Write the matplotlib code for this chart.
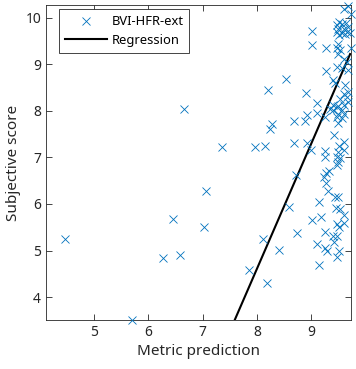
import matplotlib
matplotlib.use("Agg")
from matplotlib import pyplot as plt
import numpy as np

plt.rcParams['font.family'] = ['Noto Sans', 'DejaVu Sans']

# scatter points
pred = [6.65, 7.36, 7.97, 8.15, 8.21, 8.53, 8.28, 8.24, 8.68, 8.68, 8.90, 8.88, 8.91, 8.91,
        9.00, 9.01, 9.01, 9.10, 9.10, 9.25, 9.25, 9.27, 9.27, 9.41, 9.24, 9.32, 9.23, 8.71,
        4.47, 5.71, 6.28, 6.45, 6.58, 7.06, 7.03, 7.86, 8.11, 8.19, 8.40, 8.58, 8.73, 9.01,
        9.13, 9.18, 9.10, 9.13, 9.25, 9.25, 9.29, 9.27, 9.26, 9.30, 9.44, 9.48, 9.45, 9.53,
        9.47, 9.59, 9.60, 9.51, 9.39, 9.46, 9.41, 9.51, 9.46,
        9.68, 9.59, 9.72, 9.51, 9.46, 9.56, 9.64, 9.49, 9.59, 9.68, 9.46, 9.56, 9.65, 9.71,
        9.51, 9.62, 9.49, 9.46, 9.52, 9.49, 9.72, 9.59, 9.66, 9.46, 9.56, 9.68, 9.40, 9.43,
        9.62, 9.68, 9.59, 9.65, 9.52, 9.40, 9.49, 9.59, 9.68,
        9.34, 9.40, 9.46, 9.56, 9.49, 9.59, 9.46, 9.56, 9.49, 9.59, 9.51, 9.59, 9.49, 9.46,
        9.52, 9.49, 9.46]
score = [8.03, 7.22, 7.22, 7.24, 8.45, 8.69, 7.71, 7.61, 7.79, 7.30, 8.38, 7.78, 7.92, 7.30,
         7.16, 9.72, 9.42, 8.17, 7.96, 7.14, 7.01, 9.35, 8.86, 7.48, 7.86, 6.71, 6.58, 6.62,
         5.25, 3.51, 4.83, 5.67, 4.91, 6.28, 5.50, 4.59, 5.24, 4.31, 5.01, 5.94, 5.37, 5.66,
         6.04, 5.72, 5.15, 4.70, 5.40, 5.06, 4.98, 6.66, 6.44, 6.28, 6.14, 6.14, 5.92, 5.89,
         5.56, 5.76, 5.59, 5.51, 5.31, 5.31, 5.19, 4.99, 4.87,
         10.26, 10.19, 10.09, 9.91, 9.84, 9.86, 9.89, 9.76, 9.76, 9.80, 9.69, 9.67, 9.69, 9.67,
         9.62, 9.64, 9.43, 9.34, 9.30, 9.23, 9.34, 9.12, 9.05, 8.94, 8.91, 8.87, 8.66, 8.59,
         8.55, 8.41, 8.37, 8.30, 8.26, 8.12, 8.10, 8.12, 8.19,
         8.05, 8.01, 8.08, 8.01, 7.94, 7.93, 7.87, 7.84, 7.73, 7.33, 7.24, 7.16, 7.12, 7.01,
         6.98, 6.91, 6.84]

# regression line end points
reg_x = [7.59, 9.71]
reg_y = [3.51, 9.22]

fig = plt.figure(figsize=(3.56, 3.69), dpi=100)
ax = fig.add_axes([0.129, 0.133, 0.856, 0.853])

ax.plot(pred, score, 'x', color='#0072BD', markersize=6, markeredgewidth=0.6,
        clip_on=False, zorder=3, label='BVI-HFR-ext')
ax.plot(reg_x, reg_y, '-', color='black', linewidth=1.5, label='Regression')

ax.set_xlim(4.12, 9.72)
ax.set_ylim(3.51, 10.27)
ax.set_xticks([5, 6, 7, 8, 9])
ax.set_yticks([4, 5, 6, 7, 8, 9, 10])
ax.tick_params(direction='in', top=True, right=True, length=4, width=0.6,
               colors='#262626', labelsize=10)
for s in ax.spines.values():
    s.set_color('#262626')
    s.set_linewidth(0.6)

ax.set_xlabel('Metric prediction', fontsize=11, color='#262626', labelpad=3)
ax.set_ylabel('Subjective score', fontsize=11, color='#262626', labelpad=3)

leg = ax.legend(loc='upper left', bbox_to_anchor=(0.042, 0.987), borderaxespad=0,
                fontsize=9.3, fancybox=False, framealpha=1, edgecolor='#262626',
                handlelength=3.3, handletextpad=0.35, labelspacing=0.45, borderpad=0.45)
leg.get_frame().set_linewidth(0.6)

fig.savefig('out.png', dpi=100)
